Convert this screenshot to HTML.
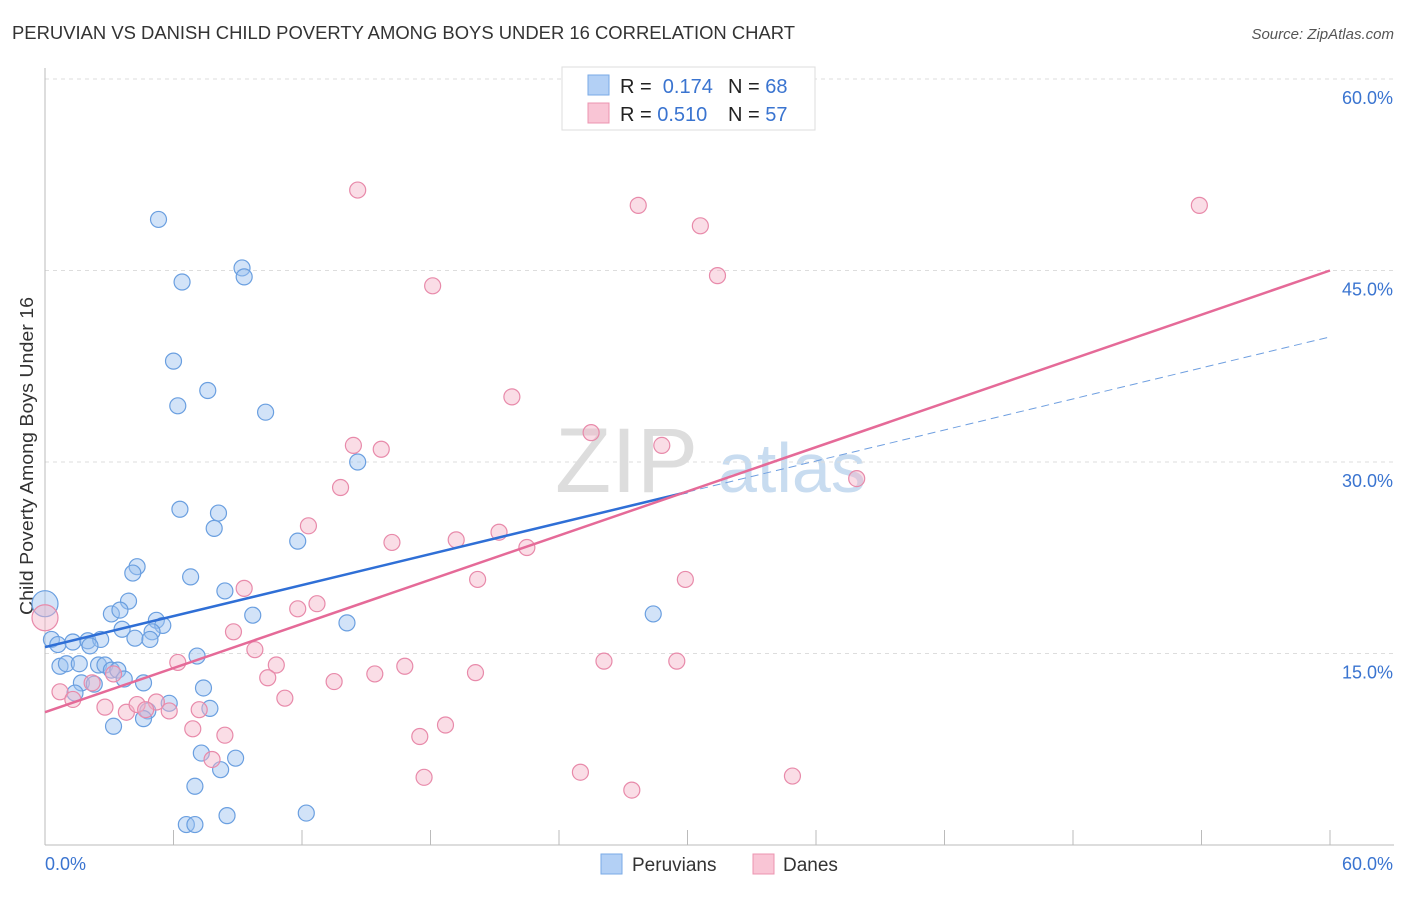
<!DOCTYPE html>
<html><head><meta charset="utf-8"><style>
body{margin:0;background:#fff;font-family:"Liberation Sans",sans-serif;}
svg text{font-family:"Liberation Sans",sans-serif;}
</style></head><body>
<svg id="c" width="1406" height="892">
<text x="12" y="39" font-size="18" fill="#333" textLength="783" lengthAdjust="spacingAndGlyphs">PERUVIAN VS DANISH CHILD POVERTY AMONG BOYS UNDER 16 CORRELATION CHART</text>
<text x="1394" y="39" font-size="15" fill="#555" text-anchor="end" font-style="italic">Source: ZipAtlas.com</text>
<text x="33" y="615" font-size="18" fill="#333" textLength="318" lengthAdjust="spacingAndGlyphs" transform="rotate(-90 33 615)">Child Poverty Among Boys Under 16</text>
<g><text x="555" y="492" font-size="92" fill="#ddd" font-family="Liberation Serif">ZIP</text><text x="718" y="492" font-size="70" fill="#c8dcf0">atlas</text></g>
<g id="grid"></g><g id="pts"></g><g id="lines"></g>
<g>
<rect x="562" y="67" width="253" height="63" fill="#fff" stroke="#ddd"/>
<rect x="588" y="75" width="21" height="20" fill="#b3d0f5" stroke="#7aaae6"/>
<rect x="588" y="103" width="21" height="20" fill="#f9c5d5" stroke="#ec94b0"/>
<text x="620" y="93" font-size="20" fill="#222">R = <tspan fill="#3a74d0">&#160;0.174</tspan><tspan x="728">N = </tspan><tspan fill="#3a74d0">68</tspan></text>
<text x="620" y="121" font-size="20" fill="#222">R = <tspan fill="#3a74d0">0.510</tspan><tspan x="728">N = </tspan><tspan fill="#3a74d0">57</tspan></text>
</g>
<g>
<rect x="601" y="854" width="21" height="20" fill="#b3d0f5" stroke="#7aaae6"/><text x="632" y="871" font-size="19" fill="#333">Peruvians</text>
<rect x="753" y="854" width="21" height="20" fill="#f9c5d5" stroke="#ec94b0"/><text x="783" y="871" font-size="19" fill="#333">Danes</text>
</g>
</svg>
<script>
const yTicks=[15,30,45,60];
const yTickLabels=["15.0%","30.0%","45.0%","60.0%"];
const blueX=[5.3,6.4,9.2,9.3,6.0,7.6,6.2,10.3,14.6,6.3,8.1,7.9,11.8,4.3,4.1,6.8,8.4,3.9,3.1,3.5,9.7,5.2,5.5,3.6,5.0,14.1,28.4,0,0.3,0.6,1.3,2.0,2.6,2.1,4.2,4.9,0.7,1.0,1.6,2.5,2.8,3.1,3.4,3.7,1.7,2.3,4.6,7.1,7.4,1.4,7.7,5.8,4.8,4.6,3.2,7.3,8.9,8.2,7.0,12.2,8.5,6.6,7.0];
const blueY=[49.0,44.1,45.2,44.5,37.9,35.6,34.4,33.9,30.0,26.3,26.0,24.8,23.8,21.8,21.3,21.0,19.9,19.1,18.1,18.4,18.0,17.6,17.2,16.9,16.7,17.4,18.1,18.9,16.1,15.7,15.9,16.0,16.1,15.6,16.2,16.1,14.0,14.2,14.2,14.1,14.1,13.7,13.7,13.0,12.7,12.6,12.7,14.8,12.3,11.9,10.7,11.1,10.5,9.9,9.3,7.2,6.8,5.9,4.6,2.5,2.3,1.6,1.6];
const pinkX=[14.6,27.7,53.9,30.6,31.4,18.1,21.8,14.4,15.7,25.5,28.8,37.9,13.8,12.3,21.2,19.2,16.2,22.5,20.2,29.9,9.3,12.7,11.8,8.8,9.8,6.2,10.8,16.8,26.1,29.5,15.4,20.1,10.4,13.5,0,0.7,2.2,1.3,11.2,3.2,2.8,3.8,4.3,5.2,4.7,5.8,7.2,6.9,8.4,18.7,17.5,7.8,17.7,25.0,27.4,34.9];
const pinkY=[51.3,50.1,50.1,48.5,44.6,43.8,35.1,31.3,31.0,32.3,31.3,28.7,28.0,25.0,24.5,23.9,23.7,23.3,20.8,20.8,20.1,18.9,18.5,16.7,15.3,14.3,14.1,14.0,14.4,14.4,13.4,13.5,13.1,12.8,17.8,12.0,12.7,11.4,11.5,13.4,10.8,10.4,11.0,11.2,10.6,10.5,10.6,9.1,8.6,9.4,8.5,6.7,5.3,5.7,4.3,5.4];
const blueFit=[15.5,39.8];
const pinkFit=[10.4,45.0];
const X=v=>45+v*1285/60, Y=v=>845-v*(845-79)/60;
const NS="http://www.w3.org/2000/svg";
function mk(t,a,p){const e=document.createElementNS(NS,t);for(const k in a)e.setAttribute(k,a[k]);p.appendChild(e);return e;}
const g=document.getElementById('grid');
yTicks.forEach((t,i)=>{
 const l=mk('line',{x1:45,x2:1394,y1:Y(t),y2:Y(t),stroke:'#ddd','stroke-dasharray':'4,4'},g);
 
 
 const tx=mk('text',{x:1393,y:Y(t)+25,'font-size':18,fill:'#3a74d0','text-anchor':'end'},g);tx.textContent=yTickLabels[i];
 
 
});
const ax=mk('line',{x1:45,x2:1394,y1:845,y2:845,stroke:'#bbb'},g);


const ay=mk('line',{x1:45,x2:45,y1:68,y2:845,stroke:'#bbb'},g);


for(let v=0;v<=60;v+=6){const t=mk('line',{x1:X(v),x2:X(v),y1:830,y2:845,stroke:'#bbb'},g);
 
 }
const x0=mk('text',{x:45,y:870,'font-size':18,fill:'#3a74d0'},g);x0.textContent='0.0%';


const x1=mk('text',{x:1393,y:870,'font-size':18,fill:'#3a74d0','text-anchor':'end'},g);x1.textContent='60.0%';


const p=document.getElementById('pts');
function dots(xs,ys,fill,stroke,name){xs.forEach((x,i)=>{const big=x===0;
 const c=mk('circle',{cx:X(x),cy:Y(ys[i]),r:big?13:8,fill:fill,'fill-opacity':0.45,stroke:stroke,'stroke-width':1.2},p);
 
 });}
dots(blueX,blueY,'#9cc2ef','#6a9fe0','peruvian-point');
dots(pinkX,pinkY,'#f5b3c8','#e88aaa','dane-point');
const L=document.getElementById('lines');
const bx=30;const byMid=blueFit[0]+(blueFit[1]-blueFit[0])*bx/60;
const b1=mk('line',{x1:X(0),y1:Y(blueFit[0]),x2:X(bx),y2:Y(byMid),stroke:'#2f6fd6','stroke-width':2.5},L);


const b2=mk('line',{x1:X(bx),y1:Y(byMid),x2:X(60),y2:Y(blueFit[1]),stroke:'#6f9fe0','stroke-width':1,'stroke-dasharray':'8,5'},L);


const pl=mk('line',{x1:X(0),y1:Y(pinkFit[0]),x2:X(60),y2:Y(pinkFit[1]),stroke:'#e56a98','stroke-width':2.5},L);


</script>
</body></html>
